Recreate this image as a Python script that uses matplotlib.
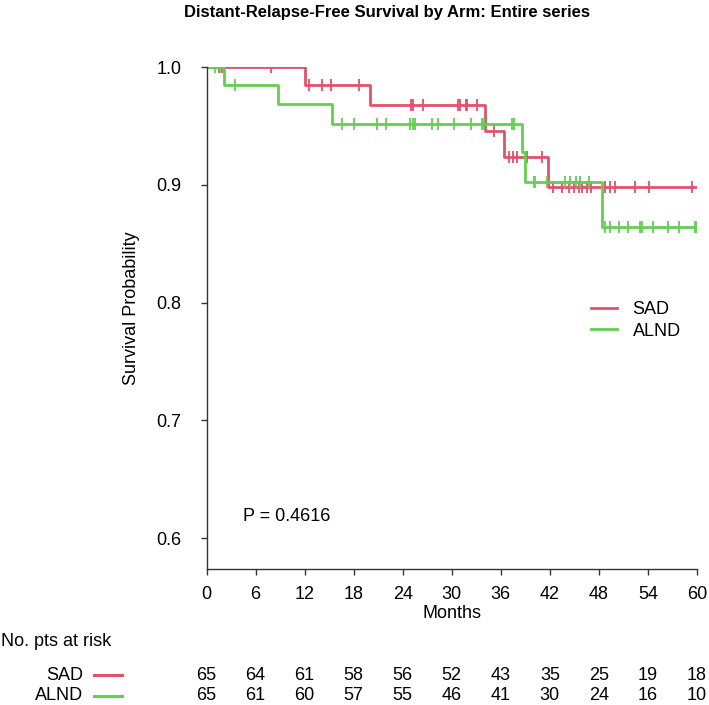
import numpy as np
import matplotlib
matplotlib.use("Agg")
import matplotlib.pyplot as plt
from matplotlib.transforms import blended_transform_factory
from matplotlib.lines import Line2D

plt.rcParams['font.family'] = ['Liberation Sans', 'DejaVu Sans']

# Kaplan-Meier steps (time in months, survival after the drop)
sad_times = [0, 12.0, 20.0, 34.1, 36.4, 41.8]
sad_surv = [1.0, 0.985, 0.968, 0.946, 0.9235, 0.898]
sad_censor = [1.5, 1.9, 7.9, 12.5, 14.1, 15.2, 18.6,
              25.0, 25.2, 26.5, 30.8, 31.0, 31.7, 31.9, 33.1, 35.2,
              37.0, 37.5, 38.0, 39.2, 41.1,
              42.4, 43.5, 44.3, 44.9, 45.6, 45.9, 46.5, 47.0, 48.8, 49.4, 50.0,
              52.4, 54.1, 59.4]

alnd_times = [0, 2.1, 8.7, 15.4, 38.6, 39.0, 48.4]
alnd_surv = [1.0, 0.985, 0.969, 0.952, 0.9275, 0.9025, 0.864]
alnd_censor = [1.1, 1.7, 3.5,
               16.6, 18.0, 20.9, 22.0, 24.9, 25.2, 25.5, 27.6, 28.3, 30.3, 32.4,
               33.7, 33.9, 37.4, 37.6,
               40.0, 40.2, 41.6, 43.8, 44.5, 45.2, 45.7, 46.8,
               48.7, 49.4, 50.5, 51.5, 53.0, 53.3, 54.6, 56.4, 57.8, 59.7, 59.9]

risk_months = [0, 6, 12, 18, 24, 30, 36, 42, 48, 54, 60]
sad_risk = [65, 64, 61, 58, 56, 52, 43, 35, 25, 19, 18]
alnd_risk = [65, 61, 60, 57, 55, 46, 41, 30, 24, 16, 10]

p_value = 0.4616
end_time = 60

groups = [
    ("SAD", sad_times, sad_surv, sad_censor, sad_risk, "#DF536B"),
    ("ALND", alnd_times, alnd_surv, alnd_censor, alnd_risk, "#61D04F"),
]

fs = 13
W, H = 709, 705
fig = plt.figure(figsize=(W / 100, H / 100), dpi=100)
ax = fig.add_axes([206.5 / W, (H - 569) / H, (697 - 206.5) / W, (569 - 67) / H])

handles = []
for name, times, surv, cens, risk, col in groups:
    t = list(times) + [end_time]
    s = list(surv) + [surv[-1]]
    ln, = ax.step(t, s, where='post', color=col, lw=2.0, label=name)
    handles.append(ln)
    # censor marks sit on the curve value at that time
    idx = np.searchsorted(times, cens, side='right') - 1
    ax.plot(cens, np.array(surv)[idx], ls='none', marker='|', ms=8.5,
            mew=1.3, color=col)

ax.set_xlim(0, 60)
ax.set_ylim(0.5737, 1.0)
ax.set_xticks(risk_months)
ax.set_yticks([0.6, 0.7, 0.8, 0.9, 1.0])
ax.set_yticklabels(["0.6", "0.7", "0.8", "0.9", "1.0"])
ax.spines['top'].set_visible(False)
ax.spines['right'].set_visible(False)
ax.tick_params(labelsize=fs, length=4, width=1.0, color='#333333')
ax.tick_params(axis='y', pad=14)
ax.tick_params(axis='x', pad=8)
for sp in ['left', 'bottom']:
    ax.spines[sp].set_linewidth(1.0)
    ax.spines[sp].set_color('#333333')

ax.set_xlabel("Months", fontsize=fs, va='center')
ax.xaxis.set_label_coords(0.5, -(614 - 569) / 502)
ax.set_ylabel("Survival Probability", fontsize=fs, va='center')
ax.yaxis.set_label_coords((131 - 206.5) / 490.5, (569 - 308) / 502)

ax.text(4.5, 0.618, f"P = {p_value}", fontsize=fs, va='center', ha='left')

ax.legend(handles=handles, loc='upper left', frameon=False,
          bbox_to_anchor=(591 / W, 1 - 301 / H), bbox_transform=fig.transFigure,
          borderpad=0, borderaxespad=0, handlelength=1.45, handletextpad=0.85,
          labelspacing=0.25, fontsize=fs)

fig.text(0.5 * (181.7 + 592.7) / W, 1 - 13 / H,
         "Distant-Relapse-Free Survival by Arm: Entire series",
         ha='center', va='center', fontsize=12, fontweight='bold')

# numbers at risk table under the axis
fig.text(1 / W, 1 - 642 / H, "No. pts at risk", fontsize=fs, va='center', ha='left')
trans = blended_transform_factory(ax.transData, fig.transFigure)
row_y = [1 - 675 / H, 1 - 696 / H]
for (name, times, surv, cens, risk, col), y in zip(groups, row_y):
    fig.text(83 / W, y, name, fontsize=fs, ha='right', va='center')
    fig.add_artist(Line2D([94 / W, 122 / W], [y, y], color=col, lw=2.2,
                          transform=fig.transFigure))
    for m, n in zip(risk_months, risk):
        ax.text(m, y, str(n), transform=trans, fontsize=fs,
                ha='center', va='center', clip_on=False)

fig.savefig("out.png", dpi=100)
